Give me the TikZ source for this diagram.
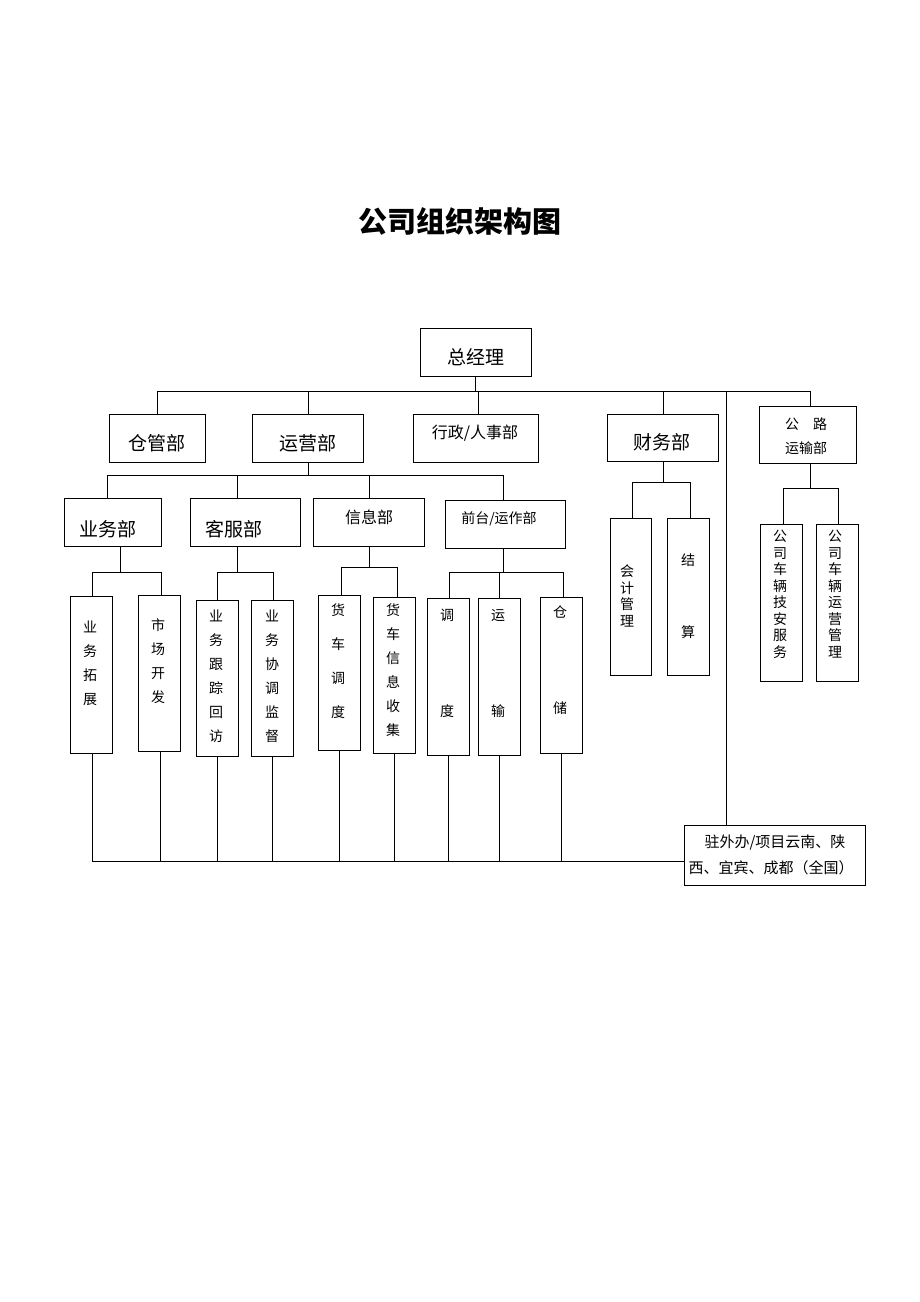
\documentclass[tikz,border=0pt]{standalone}
\usepackage{fontspec}
\setmainfont{Noto Sans CJK SC}
\begin{document}
\begin{tikzpicture}[x=1pt,y=-1pt,
  box/.style={draw,line width=0.9pt,inner sep=0pt},
  ln/.style={line width=0.9pt},
  big/.style={font=\fontsize{19}{22}\selectfont},
  mid/.style={font=\fontsize{16}{19}\selectfont},
  vt/.style={anchor=north,align=center,inner sep=0pt,font=\fontsize{14}{24}\selectfont}]
\useasboundingbox (0,0) rectangle (920,1302);
\newcommand{\bx}[5]{\node[box,minimum width={#4-#2},minimum height={#5-#3}] (#1) at ({(#2+#4)/2},{(#3+#5)/2}) {};}
\node[font=\fontsize{29}{32}\selectfont\bfseries] (title) at (460,221) {公司组织架构图};
% level 0/1
\bx{zjl}{420}{328}{531}{376}
\node[big] (tzjl) at (476,357) {总经理};
\bx{cg}{109}{414}{205}{462}
\node[big] (tcg) at (157,443) {仓管部};
\bx{yy}{252}{414}{363}{462}
\node[big] (tyy) at (308,443) {运营部};
\bx{xz}{413}{414}{538}{462}
\node[mid] (txz) at (475,433) {行政/人事部};
\bx{cw}{607}{414}{718}{461}
\node[big] (tcw) at (662,442) {财务部};
\bx{gl}{759}{406}{856}{463}
\node[font=\fontsize{14}{18}\selectfont] (tgl1) at (806,424) {公\quad 路};
\node[font=\fontsize{14}{18}\selectfont] (tgl2) at (806,448) {运输部};
\bx{zw}{684}{825}{865}{885}
\node[font=\fontsize{15}{18}\selectfont] (tzw1) at (775,843) {驻外办/项目云南、陕};
\node[font=\fontsize{15}{18}\selectfont] (tzw2) at (771,868) {西、宜宾、成都（全国）};
\coordinate (t1) at (157,391); \coordinate (t2) at (810,391);
\draw[ln] (zjl.south -| 475,0) -- (475,391);
\draw[ln] (t1) -- (t2);
\draw[ln] (t1) -- (cg.north -| t1);
\draw[ln] (308,391) -- (yy.north -| 308,0);
\draw[ln] (478,391) -- (xz.north -| 478,0);
\draw[ln] (663,391) -- (cw.north -| 663,0);
\draw[ln] (t2) -- (gl.north -| t2);
\draw[line width=0.6pt] (726,391) -- (zw.north -| 726,0);
% level 2
\bx{yw}{64}{498}{161}{546}
\node[big] (tyw) at (108,529) {业务部};
\bx{kf}{190}{498}{300}{546}
\node[big] (tkf) at (234,529) {客服部};
\bx{xx}{313}{498}{424}{546}
\node[mid] (txx) at (369,517) {信息部};
\bx{qt}{445}{500}{565}{548}
\node[font=\fontsize{14}{17}\selectfont] (tqt) at (499,519) {前台/运作部};
\draw[ln] (yy.south -| 308,0) -- (308,475);
\draw[ln] (107,475) -- (503,475);
\draw[ln] (107,475) -- (yw.north -| 107,0);
\draw[ln] (237,475) -- (kf.north -| 237,0);
\draw[ln] (369,475) -- (xx.north -| 369,0);
\draw[ln] (503,475) -- (qt.north -| 503,0);
% leaves
\bx{a1}{70}{596}{112}{753}
\node[vt] (ta1) at (90,621) {业\\务\\拓\\展};
\bx{a2}{138}{595}{180}{751}
\node[vt] (ta2) at (158,618) {市\\场\\开\\发};
\bx{b1}{196}{600}{238}{756}
\node[vt] (tb1) at (216,610) {业\\务\\跟\\踪\\回\\访};
\bx{b2}{251}{600}{293}{756}
\node[vt] (tb2) at (272,610) {业\\务\\协\\调\\监\\督};
\bx{c1}{318}{595}{360}{750}
\node[vt,font=\fontsize{14}{34}\selectfont] (tc1) at (338,603) {货\\车\\调\\度};
\bx{c2}{373}{597}{415}{753}
\node[vt] (tc2) at (393,603) {货\\车\\信\\息\\收\\集};
\bx{d1}{427}{598}{469}{755}
\node[vt] (td1) at (447,609) {调\\ \\ \\ \\度};
\bx{d2}{478}{598}{520}{755}
\node[vt] (td2) at (498,609) {运\\ \\ \\ \\输};
\bx{d3}{540}{597}{582}{753}
\node[vt] (td3) at (560,606) {仓\\ \\ \\ \\储};
\bx{e1}{610}{518}{651}{675}
\node[vt,font=\fontsize{14}{16.5}\selectfont] (te1) at (627,565) {会\\计\\管\\理};
\bx{e2}{667}{518}{709}{675}
\node[vt,font=\fontsize{14}{24}\selectfont] (te2) at (688,554) {结\\ \\ \\算};
\bx{f1}{760}{524}{802}{681}
\node[vt,font=\fontsize{14}{16.5}\selectfont] (tf1) at (780,530) {公\\司\\车\\辆\\技\\安\\服\\务};
\bx{f2}{816}{524}{858}{681}
\node[vt,font=\fontsize{14}{16.5}\selectfont] (tf2) at (835,530) {公\\司\\车\\辆\\运\\营\\管\\理};
% level-2 to leaves
\draw[ln] (yw.south -| 120,0) -- (120,572); \draw[ln] (92,572) -- (161,572);
\draw[ln] (92,572) -- (a1.north -| 92,0); \draw[ln] (161,572) -- (a2.north -| 161,0);
\draw[ln] (kf.south -| 237,0) -- (237,572); \draw[ln] (217,572) -- (273,572);
\draw[ln] (217,572) -- (b1.north -| 217,0); \draw[ln] (273,572) -- (b2.north -| 273,0);
\draw[ln] (xx.south -| 369,0) -- (369,567); \draw[ln] (341,567) -- (397,567);
\draw[ln] (341,567) -- (c1.north -| 341,0); \draw[ln] (397,567) -- (c2.north -| 397,0);
\draw[ln] (qt.south -| 503,0) -- (503,572); \draw[ln] (449,572) -- (563,572);
\draw[ln] (449,572) -- (d1.north -| 449,0); \draw[ln] (499,572) -- (d2.north -| 499,0); \draw[ln] (563,572) -- (d3.north -| 563,0);
\draw[ln] (cw.south -| 663,0) -- (663,482); \draw[ln] (632,482) -- (690,482);
\draw[ln] (632,482) -- (e1.north -| 632,0); \draw[ln] (690,482) -- (e2.north -| 690,0);
\draw[ln] (gl.south -| 810,0) -- (810,488); \draw[ln] (783,488) -- (838,488);
\draw[ln] (783,488) -- (f1.north -| 783,0); \draw[ln] (838,488) -- (f2.north -| 838,0);
% bottom
\draw[ln] (92,861) -- (zw.west |- 0,861);
\foreach \n/\x in {a1/92,a2/160,b1/217,b2/272,c1/339,c2/394,d1/448,d2/499,d3/561}
  \draw[line width=0.6pt] (\n.south -| \x,0) -- (\x,861);
\end{tikzpicture}
\end{document}
